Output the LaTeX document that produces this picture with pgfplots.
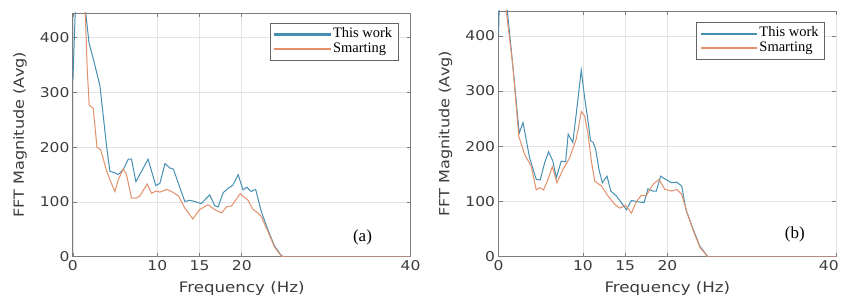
\documentclass[border=0pt]{standalone}
\usepackage{pgfplots}
\pgfplotsset{compat=1.18}
\usepackage{fontspec}
\setmainfont{Liberation Serif}
\newfontfamily\sanswide[FakeStretch=1.15]{DejaVu Sans}
\definecolor{cblue}{RGB}{68,143,178}
\definecolor{corange}{RGB}{226,143,106}
\definecolor{framegray}{RGB}{125,125,125}
\definecolor{gridgray}{RGB}{228,228,228}
\definecolor{txtgray}{RGB}{60,60,60}
\definecolor{leggray}{RGB}{100,100,100}

\pgfplotstableread{
x y
0 324
0.3 460
0.6 650
1.0 620
1.5 448
1.9 391
2.5 356
3.2 312
4.0 200
4.38 156
5.0 153
5.36 150
5.96 159
6.55 178
6.94 178
7.46 137
8.9 178
9.82 130
10.3 134
10.9 170
11.5 162
11.9 160
13.25 101
13.85 103
14.4 101
15.2 97
16.2 113
16.8 93
17.2 91
17.8 117
18.4 125
18.97 131
19.57 150
20.15 122
20.6 127
21.1 119
21.65 123
22.3 83
23.1 49
23.9 19
24.7 2
25 0
40 0
}\blueA

\pgfplotstableread{
x y
0 520
0.5 800
1.0 650
1.45 448
1.7 340
1.93 277
2.4 271
2.85 200
3.3 195
4.0 156
4.4 140
4.97 119
5.36 140
5.96 160
6.35 150
6.94 107
7.5 107
7.93 111
8.8 133
9.3 116
9.9 120
10.3 118
11.1 123
11.7 119
12.5 111
13.25 89
14.2 69
15.0 86
16.0 95
16.8 86
17.6 80
18.2 91
18.8 93
19.8 115
20.75 103
21.3 87
21.9 80
22.3 74
23.1 46
23.9 17
24.7 1
25 0
40 0
}\orangeA

\pgfplotstableread{
x y
0 400
0.3 600
0.7 700
1.03 447
1.7 345
2.45 224
2.9 243
3.68 179
4.47 140
4.94 139
5.46 170
5.93 190
6.44 173
6.84 143
7.43 173
7.95 172
8.25 222
8.8 207
9.2 258
9.8 338
10.2 288
10.6 246
10.9 210
11.2 207
11.5 195
11.9 158
12.3 134
12.85 146
13.3 119
13.96 110
14.55 98
15.15 85
15.74 102
16.3 100
17.24 98
17.7 123
18.3 119
18.7 119
19.2 146
19.8 140
20.5 134
21.1 135
21.7 128
22.2 85
23.0 52
23.85 19
24.8 0
40 0
}\blueB

\pgfplotstableread{
x y
0 550
0.4 800
0.9 447
1.7 345
2.4 218
3.1 185
3.87 164
4.47 121
4.86 125
5.34 121
5.85 140
6.37 163
6.92 134
7.63 158
8.42 179
9.2 213
9.5 236
9.8 263
10.2 255
10.6 222
11.0 173
11.4 137
12.2 128
12.97 110
13.76 95
14.35 88
15.07 93
15.74 79
16.33 100
16.9 111
17.5 111
18.3 131
19.0 140
19.7 122
20.5 119
21.1 122
21.7 113
22.3 82
23.0 50
23.85 17
24.8 0
40 0
}\orangeB

\pgfplotsset{
  blueline/.style={color=cblue, line width=1pt,
    legend image code/.code={\fill[cblue] (0pt,-0.6pt) rectangle (56pt,0.6pt);}},
  orangeline/.style={color=corange, line width=1pt,
    legend image code/.code={\fill[corange] (0pt,-0.6pt) rectangle (56pt,0.6pt);}},
  myax/.style={
    scale only axis,
    width=338pt,
    xmin=0, xmax=40, ymin=0, ymax=445,
    ytick={0,100,200,300,400},
    grid=major,
    grid style={color=gridgray, line width=0.6pt},
    axis line style={color=framegray, line width=0.9pt},
    tick align=inside,
    tick pos=both,
    major tick length=4pt,
    tick style={color=framegray, line width=0.6pt},
    /pgf/number format/assume math mode=true,
    tick label style={font=\sanswide\fontsize{13.5}{15}\selectfont, text=txtgray},
    xlabel={Frequency (Hz)},
    ylabel={FFT Magnitude (Avg)},
    x label style={at={(axis description cs:0.5,-0.131)}, anchor=center, font=\sanswide\fontsize{14.5}{16}\selectfont, text=txtgray},
    y label style={at={(axis description cs:-0.157,0.5)}, anchor=center, font=\sanswide\fontsize{14}{16}\selectfont, text=txtgray},
    legend cell align=left,
    legend style={draw=leggray, line width=0.9pt, fill=white, text=black,
      font=\fontsize{14.5}{15}\selectfont, inner sep=4pt, row sep=0pt,
      nodes={inner xsep=2pt, inner ysep=0pt, text height=10.5pt, text depth=3.8pt}},
  }
}

\begin{document}
\begin{tikzpicture}
\path (0,0) rectangle (842pt,302pt);
\begin{axis}[myax, at={(73pt,45pt)}, anchor=south west, height=244pt,
  xtick={0,10,15,20,40},
  legend style={at={(0.9645,0.959)}, anchor=north east}]
\addplot[blueline] table[x=x,y=y] {\blueA};
\addlegendentry{This work}
\addplot[orangeline] table[x=x,y=y] {\orangeA};
\addlegendentry{Smarting}
\node[font=\fontsize{17}{18}\selectfont] at (axis cs:34.3,36) {(a)};
\end{axis}
\begin{axis}[myax, at={(499pt,45pt)}, anchor=south west, height=246pt,
  xtick={0,10,15,20},
  extra x ticks={40},
  extra x tick style={xticklabel style={anchor=north east, xshift=6pt}},
  legend style={at={(0.967,0.955)}, anchor=north east}]
\addplot[blueline] table[x=x,y=y] {\blueB};
\addlegendentry{This work}
\addplot[orangeline] table[x=x,y=y] {\orangeB};
\addlegendentry{Smarting}
\node[font=\fontsize{17}{18}\selectfont] at (axis cs:35.1,40) {(b)};
\end{axis}
\end{tikzpicture}
\end{document}
